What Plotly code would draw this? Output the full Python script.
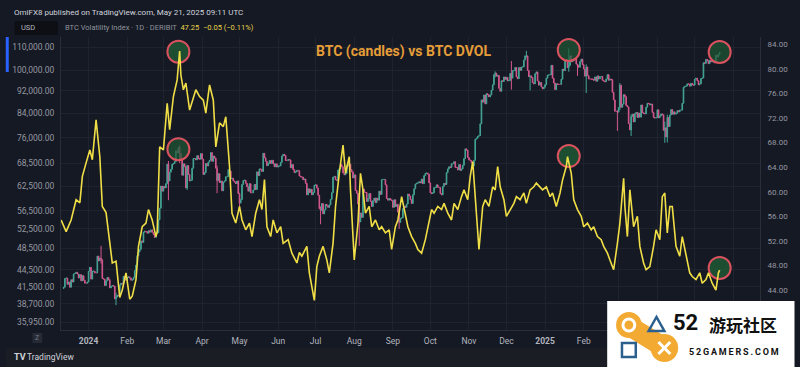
import pandas as pd
import plotly.graph_objects as go

# ---------------- DATA ----------------
# BTC daily closes (thousand USD), 2023-12-12 .. 2025-05-21
btc_start = "2023-12-12"
btc_prev_close = 41.2
btc_dec23 = [41.4, 42.9, 43.0, 41.9, 42.3, 41.4, 42.7, 42.3, 43.7, 43.8, 44.0, 43.7, 43.0, 43.6, 42.5, 43.4, 42.6, 42.1, 42.1, 42.3]
btc_jan24 = [44.2, 44.9, 42.8, 44.2, 44.2, 43.9, 43.9, 47.0, 46.1, 46.6, 46.3, 42.9, 42.8, 41.7, 42.5, 43.1, 42.7, 41.3, 41.6, 41.7,
             41.6, 39.5, 39.8, 40.1, 40.0, 41.8, 42.1, 42.0, 43.3, 42.9, 42.6]
btc_feb24 = [43.1, 43.2, 43.0, 42.6, 42.7, 43.1, 44.3, 45.3, 47.1, 47.8, 48.3, 50.0, 49.7, 51.8, 52.0, 51.9, 51.6, 52.1, 51.8, 52.3,
             51.8, 51.3, 50.7, 51.6, 51.7, 54.5, 57.1, 62.5, 61.2]
btc_mar24 = [62.4, 62.0, 63.1, 68.3, 63.8, 66.1, 66.9, 68.3, 68.5, 69.0, 72.1, 71.5, 73.1, 71.4, 69.5, 65.3, 68.4, 67.6, 62.0, 67.9,
             65.5, 63.8, 64.0, 67.2, 69.9, 69.9, 69.5, 70.7, 69.9, 69.7, 71.3]
btc_apr24 = [69.7, 65.5, 66.0, 68.5, 67.8, 68.9, 69.4, 71.6, 69.1, 70.6, 70.0, 67.2, 63.9, 65.7, 63.4, 63.8, 61.3, 63.5, 63.8, 64.9,
             64.9, 66.8, 66.4, 64.3, 64.5, 63.8, 63.5, 63.1, 63.8, 60.6]
btc_may24 = [58.3, 59.1, 62.9, 63.9, 64.0, 63.2, 62.3, 61.2, 63.1, 60.8, 60.8, 61.5, 62.9, 61.6, 66.2, 65.2, 67.0, 66.9, 66.3, 71.4,
             70.1, 69.1, 67.9, 68.5, 69.3, 68.5, 69.4, 68.4, 67.6, 68.4, 67.5]
btc_jun24 = [67.8, 67.8, 68.8, 70.6, 71.1, 70.8, 69.3, 69.3, 69.6, 69.5, 67.3, 68.2, 66.8, 66.0, 66.2, 66.6, 66.5, 65.1, 64.9, 64.8,
             64.1, 64.3, 63.2, 60.3, 61.8, 60.9, 61.7, 60.3, 60.9, 62.7]
btc_jul24 = [62.8, 62.0, 60.2, 57.0, 56.6, 58.2, 55.8, 56.7, 58.0, 57.7, 57.3, 57.9, 59.2, 60.8, 64.8, 65.0, 64.1, 63.9, 66.7, 67.1,
             68.2, 67.6, 65.9, 65.4, 65.8, 67.9, 67.8, 68.3, 66.8, 66.2, 64.6]
btc_aug24 = [65.4, 61.4, 60.7, 58.1, 54.0, 56.0, 55.0, 61.7, 60.9, 60.9, 58.7, 59.4, 60.6, 58.7, 57.5, 58.9, 59.5, 58.4, 59.5, 59.0,
             61.2, 60.4, 64.1, 64.2, 64.2, 62.8, 59.4, 59.0, 59.4, 59.1, 58.9]
btc_sep24 = [57.3, 59.1, 57.5, 58.0, 56.2, 53.9, 54.8, 54.9, 57.0, 57.6, 57.3, 58.1, 60.5, 60.0, 59.1, 58.2, 60.3, 61.8, 63.0, 63.2,
             63.3, 63.6, 63.3, 64.3, 63.1, 65.2, 65.8, 65.9, 65.6, 63.3]
btc_oct24 = [60.8, 60.6, 60.8, 62.1, 62.1, 62.8, 62.2, 62.1, 60.6, 60.3, 62.4, 63.2, 62.9, 66.0, 67.0, 67.6, 67.4, 68.4, 68.4, 69.0,
             67.4, 67.4, 66.7, 68.2, 66.6, 67.0, 68.0, 69.9, 72.7, 72.3, 70.2]
btc_nov24 = [69.5, 69.3, 68.7, 67.8, 69.4, 75.6, 75.9, 76.5, 76.7, 80.5, 88.7, 87.9, 90.5, 87.3, 91.0, 90.6, 89.8, 90.5, 92.3, 94.3,
             98.3, 98.9, 97.7, 98.0, 93.0, 91.9, 95.9, 95.6, 97.4, 96.4]
btc_dec24 = [97.2, 95.8, 96.0, 98.8, 96.9, 99.9, 99.9, 101.2, 97.4, 96.7, 101.2, 100.0, 101.4, 101.4, 104.3, 106.1, 106.1, 100.0, 97.5, 97.8,
             97.2, 95.1, 94.7, 98.7, 99.4, 95.8, 94.2, 95.2, 93.5, 92.8, 93.4]
btc_jan25 = [94.4, 96.9, 98.1, 98.2, 98.3, 102.1, 96.9, 95.0, 92.5, 94.7, 94.5, 94.5, 94.5, 96.5, 100.5, 99.9, 104.4, 104.4, 101.1, 102.0,
             106.1, 103.6, 103.9, 104.8, 104.7, 102.6, 102.0, 101.3, 103.7, 104.7, 102.4]
btc_feb25 = [100.6, 97.7, 101.4, 97.9, 96.6, 96.6, 96.5, 96.5, 96.1, 97.4, 95.7, 97.8, 96.6, 97.5, 97.6, 96.1, 95.8, 95.5, 96.6, 98.3,
             96.1, 96.6, 96.3, 91.5, 88.7, 84.7, 84.7, 84.4]
btc_mar25 = [86.0, 94.2, 86.1, 87.2, 90.6, 89.9, 86.7, 86.2, 80.6, 78.5, 82.9, 83.7, 81.1, 83.9, 84.3, 82.6, 84.1, 82.7, 86.9, 84.2,
             84.0, 83.8, 86.1, 87.5, 87.4, 86.9, 87.2, 84.3, 82.6, 82.4, 82.5]
btc_apr25 = [85.2, 82.5, 83.1, 83.8, 83.5, 78.4, 79.2, 76.3, 82.6, 79.6, 83.4, 85.3, 83.7, 84.5, 83.7, 84.0, 84.9, 84.5, 85.1, 85.1,
             87.5, 93.4, 93.7, 93.9, 94.7, 94.6, 93.8, 94.9, 94.3, 94.2]
btc_may25 = [96.5, 96.9, 95.9, 94.3, 94.7, 96.8, 97.0, 103.2, 102.9, 104.6, 104.1, 102.8, 104.2, 103.5, 103.7, 103.5, 103.2, 106.4, 105.6, 106.8,
             107.6]

# notable intraday wicks (thousand USD): date, high, low
wick_dates = ["2024-01-11", "2024-01-23", "2024-03-05", "2024-03-14", "2024-03-20", "2024-04-13", "2024-05-01",
              "2024-07-05", "2024-08-05", "2024-09-06", "2024-11-22", "2024-12-05", "2024-12-17", "2024-12-20",
              "2025-01-20", "2025-01-27", "2025-02-03", "2025-02-28", "2025-03-02", "2025-03-11", "2025-04-07",
              "2025-04-09"]
wick_high = [49.0, 40.5, 69.2, 73.8, 68.1, 67.9, 60.8, 57.5, 58.3, 56.9, 99.6, 103.9, 108.3, 98.0,
             109.4, 102.5, 102.5, 85.0, 95.0, 83.6, 81.2, 83.5]
wick_low = [45.6, 38.5, 59.0, 68.6, 61.5, 60.7, 56.5, 53.5, 49.0, 52.5, 97.2, 92.5, 105.3, 92.2,
            99.5, 97.8, 91.2, 78.2, 85.1, 76.6, 74.5, 74.6]

# BTC DVOL readings: day offset from 2024-01-01, value
dvol_epoch = "2024-01-01"
dvol_day = [-22, -18, -14, -10, -7, -5, -2, 1, 3, 6, 9, 11, 14, 17, 19, 22, 25, 27, 30, 33, 35, 38, 40, 43, 46, 48, 51, 54, 55, 57,
            60, 63, 65, 68, 71, 73, 74, 76, 78, 81, 84, 86, 89, 92, 94, 97, 100, 102, 105, 108, 110, 113, 115, 118, 121, 123, 126, 129,
            131, 134, 137, 139, 141, 143, 146, 148, 151, 154, 156, 160, 163, 167, 169, 171, 175, 177, 181, 183, 185, 188, 191, 193, 196,
            198, 201, 204, 206, 209, 210, 213, 216, 218, 220, 222, 225, 227, 230, 233, 235, 238, 241, 243, 246, 248, 251, 254, 256, 259,
            262, 264, 267, 270, 272, 275, 277, 280, 283, 285, 288, 291, 293, 296, 299, 301, 304, 306, 308, 310, 313, 316, 318, 321, 324,
            326, 328, 330, 333, 335, 338, 341, 343, 346, 349, 351, 354, 357, 359, 362, 364, 367, 370, 372, 375, 378, 380, 383, 384, 387,
            389, 392, 395, 397, 400, 403, 405, 408, 411, 413, 416, 418, 421, 424, 426, 429, 430, 432, 434, 437, 440, 442, 445, 447, 450,
            453, 455, 458, 460, 462, 464, 466, 468, 471, 474, 476, 479, 482, 484, 487, 490, 492, 495, 497, 500, 503, 505, 506]
dvol_val = [55.4, 53.5, 55.4, 58.7, 58.2, 62.5, 64.7, 66.8, 65.2, 71.7, 65.7, 57.6, 56.6, 52.2, 48.4, 48.7, 42.8, 44.0, 46.8, 42.5,
            43.0, 45.7, 51.1, 54.3, 54.9, 57.1, 55.4, 52.7, 53.5, 67.3, 66.8, 74.4, 70.1, 75.5, 78.2, 82.9, 79.0, 76.6, 77.7, 73.3,
            75.5, 76.6, 75.5, 74.9, 72.8, 77.4, 74.9, 67.3, 71.2, 70.6, 72.2, 64.1, 56.5, 54.9, 57.6, 55.4, 53.8, 54.9, 52.7, 56.5,
            58.7, 57.1, 62.0, 54.3, 52.7, 55.4, 53.3, 54.3, 51.6, 52.2, 50.0, 48.4, 50.1, 49.5, 51.1, 46.8, 42.3, 47.8, 49.5, 51.1,
            48.9, 46.8, 51.6, 57.6, 63.0, 67.6, 63.0, 65.7, 60.3, 48.9, 54.9, 63.0, 60.3, 56.5, 57.6, 54.3, 55.4, 53.8, 54.3, 53.3,
            53.8, 50.6, 54.3, 55.4, 59.2, 56.5, 54.3, 52.7, 51.6, 50.6, 50.0, 52.2, 54.3, 57.1, 56.5, 57.6, 57.1, 58.1, 56.5, 55.4,
            58.1, 57.1, 59.2, 60.3, 58.7, 62.5, 64.9, 59.2, 50.6, 57.6, 58.7, 57.6, 60.8, 60.3, 64.1, 60.8, 58.7, 56.0, 57.1, 58.1,
            59.2, 58.7, 59.8, 58.1, 60.3, 60.8, 61.4, 60.8, 60.3, 60.8, 59.2, 59.8, 57.6, 59.8, 61.9, 64.1, 65.7, 63.0, 58.7, 57.1,
            56.0, 54.3, 54.9, 53.8, 54.3, 52.7, 52.2, 51.1, 50.0, 48.9, 47.3, 51.6, 54.9, 62.2, 57.6, 52.7, 60.3, 54.3, 56.0, 51.1,
            48.4, 47.3, 47.8, 51.1, 53.8, 52.2, 59.2, 59.8, 53.3, 57.6, 57.6, 51.1, 49.5, 52.7, 49.5, 46.8, 46.2, 45.7, 46.8, 45.1,
            45.7, 46.8, 45.1, 44.0, 46.8, 47.25]

# highlighted points
mark_dates = ["2024-03-13", "2025-01-20", "2025-05-21"]
mark_btc = [72600, 108700, 107800]
mark_dvol = [82.8, 65.8, 47.6]

# axis ticks
month_ticks = pd.date_range("2024-01-01", "2025-06-01", freq="MS")
month_text = ["<b>2024</b>", "Feb", "Mar", "Apr", "May", "Jun", "Jul", "Aug", "Sep", "Oct", "Nov", "Dec",
              "<b>2025</b>", "Feb", "Mar", "Apr", "May", "Jun"]
btc_ticks = [110000, 100000, 92000, 84000, 76000, 68500, 62500, 56500, 52500, 48500, 44500, 41500, 38700, 35950]
dvol_ticks = [44, 48, 52, 56, 60, 64, 68, 72, 76, 80, 84]

# ---------------- BUILD ----------------
closes_k = (btc_dec23 + btc_jan24 + btc_feb24 + btc_mar24 + btc_apr24 + btc_may24 + btc_jun24 + btc_jul24 +
            btc_aug24 + btc_sep24 + btc_oct24 + btc_nov24 + btc_dec24 + btc_jan25 + btc_feb25 + btc_mar25 +
            btc_apr25 + btc_may25)
btc_dates = pd.date_range(btc_start, periods=len(closes_k), freq="D")
opens_k = [btc_prev_close] + closes_k[:-1]
highs_k = [max(o, c) for o, c in zip(opens_k, closes_k)]
lows_k = [min(o, c) for o, c in zip(opens_k, closes_k)]
date_index = {d.strftime("%Y-%m-%d"): i for i, d in enumerate(btc_dates)}
for d, hi, lo in zip(wick_dates, wick_high, wick_low):
    i = date_index[d]
    highs_k[i] = max(highs_k[i], hi)
    lows_k[i] = min(lows_k[i], lo)

closes = [v * 1000 for v in closes_k]
opens = [v * 1000 for v in opens_k]
highs = [v * 1000 for v in highs_k]
lows = [v * 1000 for v in lows_k]
dvol_dates = pd.Timestamp(dvol_epoch) + pd.to_timedelta(dvol_day, unit="D")

W, H = 800, 367
L, R, T, B = 56, 35, 37, 37
PW, PH = W - L - R, H - T - B


def px(x, y):
    return (x - L) / PW, (H - B - y) / PH


BG = "#151924"
GRID = "#1f2330"
FONT = "Roboto"

fig = go.Figure()

fig.add_trace(go.Scatter(
    x=mark_dates, y=mark_btc, mode="markers", yaxis="y", hoverinfo="skip",
    marker=dict(size=22, color="rgba(30,88,52,0.7)", line=dict(color="#d9525e", width=2))))

fig.add_trace(go.Candlestick(
    x=btc_dates, open=opens, high=highs, low=lows, close=closes, yaxis="y",
    increasing=dict(line=dict(color="#45a596", width=1), fillcolor="#45a596"),
    decreasing=dict(line=dict(color="#d4588e", width=1), fillcolor="#d4588e"),
    whiskerwidth=0))

fig.add_trace(go.Scatter(
    x=mark_dates, y=mark_dvol, mode="markers", yaxis="y2", hoverinfo="skip",
    marker=dict(size=22, color="rgba(30,88,52,0.85)", line=dict(color="#d9525e", width=2))))

fig.add_trace(go.Scatter(
    x=dvol_dates, y=dvol_val, mode="lines", yaxis="y2",
    line=dict(color="#f0de46", width=1.6)))

shapes = []


def rect(x0, y0, x1, y1, fill, layer="below", line=None):
    a0, b0 = px(x0, y0)
    a1, b1 = px(x1, y1)
    d = dict(type="rect", xref="paper", yref="paper", x0=a0, y0=b0, x1=a1, y1=b1,
             fillcolor=fill, layer=layer, line=dict(width=0))
    if line:
        d["line"] = line
    shapes.append(d)


def circle(cx, cy, r, fill=None, line=None, layer="above"):
    a0, b0 = px(cx - r, cy + r)
    a1, b1 = px(cx + r, cy - r)
    shapes.append(dict(type="circle", xref="paper", yref="paper", x0=a0, y0=b0, x1=a1, y1=b1,
                       fillcolor=fill or "rgba(0,0,0,0)", layer=layer,
                       line=line or dict(width=0)))


def seg(x0, y0, x1, y1, color, width, layer="above"):
    a0, b0 = px(x0, y0)
    a1, b1 = px(x1, y1)
    shapes.append(dict(type="line", xref="paper", yref="paper", x0=a0, y0=b0, x1=a1, y1=b1,
                       layer=layer, line=dict(color=color, width=width)))


# footer band, USD box, blue accent
rect(0, 348, 800, 367, "#1b1d25")
rect(9, 21, 53, 35, "#0d0f15")
rect(0, 37, 3, 72, "#2962ff")
rect(27, 333, 37, 343, "#262a35")

# watermark
rect(610, 301, 800, 367, "#ffffff", layer="above")
seg(634, 327, 667, 347, "#f3aa33", 20)
circle(632, 325, 13, fill="#f3aa33")
circle(668, 348, 14, fill="#f3aa33")
circle(632, 325, 6, line=dict(color="#ffffff", width=3))
seg(662, 342, 674, 354, "#ffffff", 3)
seg(662, 354, 674, 342, "#ffffff", 3)
tri = [px(652, 331), px(660, 317), px(668, 331)]
shapes.append(dict(type="path", xref="paper", yref="paper", layer="above",
                   path="M {} {} L {} {} L {} {} Z".format(tri[0][0], tri[0][1], tri[1][0], tri[1][1], tri[2][0], tri[2][1]),
                   line=dict(color="#2b5f8e", width=2.5), fillcolor="rgba(0,0,0,0)"))
rect(625, 343, 639, 357, "rgba(0,0,0,0)", layer="above", line=dict(color="#2b5f8e", width=2.5))

annotations = []


def text(x, y, s, size, color, anchor="left", family=FONT, bold=False):
    a, b = px(x, y)
    annotations.append(dict(x=a, y=b, xref="paper", yref="paper", text=("<b>%s</b>" % s) if bold else s,
                            showarrow=False, xanchor=anchor, yanchor="middle", borderpad=0,
                            font=dict(size=size, color=color, family=family)))


text(7, 13, "OmiFX8 published on TradingView.com, May 21, 2025 09:11 UTC", 8, "#d1d4dc")
text(14, 28, "USD", 7.5, "#b2b5be")
text(59, 28, '<span style="color:#8f929c">BTC Volatility Index · 1D · DERIBIT</span>  '
             '<span style="color:#e6d24a">47.25  −0.05 (−0.11%)</span>', 7.5, "#8f929c")
text(403, 51, "BTC (candles) vs BTC DVOL", 14, "#e59d38", anchor="center", bold=True)
text(32, 338, "Z", 7, "#787b86", anchor="center")
text(7, 357, "<b>TV</b>", 9, "#d1d4dc")
text(21, 357, "TradingView", 8.5, "#d1d4dc")
# watermark text
text(689, 322, "52", 22, "#111111", anchor="center", bold=True)
text(748, 324, "游玩社区", 17, "#111111", anchor="center", family="Noto Sans CJK SC", bold=True)
text(739, 352, "5\u20092\u2009G\u2009A\u2009M\u2009E\u2009R\u2009S\u2009.\u2009C\u2009O\u2009M", 9, "#111111",
     anchor="center", bold=True)

fig.update_layout(
    width=W, height=H, margin=dict(l=L, r=R, t=T, b=B),
    paper_bgcolor=BG, plot_bgcolor=BG, showlegend=False,
    font=dict(family=FONT, color="#b2b5be", size=8.5),
    xaxis=dict(type="date", range=["2023-12-09 21:00", "2025-06-22 08:00"], rangeslider=dict(visible=False),
               tickmode="array", tickvals=list(month_ticks), ticktext=month_text,
               showgrid=True, gridcolor=GRID, gridwidth=1, zeroline=False,
               showline=True, linecolor="#2a2e39", ticks="", ticklabelstandoff=3,
               tickfont=dict(size=8.5, color="#b2b5be")),
    yaxis=dict(type="log", range=[4.54157, 5.05905], side="left",
               tickmode="array", tickvals=btc_ticks, ticktext=["{:,.2f}".format(v) for v in btc_ticks],
               showgrid=True, gridcolor=GRID, gridwidth=1, zeroline=False,
               showline=True, linecolor="#2a2e39", ticks="", ticklabelstandoff=4,
               tickfont=dict(size=8.5, color="#9598a1")),
    yaxis2=dict(range=[37.49, 85.19], overlaying="y", side="right",
                tickmode="array", tickvals=dvol_ticks, ticktext=["{:.2f}".format(v) for v in dvol_ticks],
                showgrid=False, zeroline=False, showline=True, linecolor="#2a2e39", ticks="",
                ticklabelstandoff=5, tickfont=dict(size=8, color="#9598a1")),
    shapes=shapes, annotations=annotations,
)

fig.write_html("out.html", config={"displayModeBar": False},
               post_script="document.body.style.margin='0';document.body.style.overflow='hidden';")
